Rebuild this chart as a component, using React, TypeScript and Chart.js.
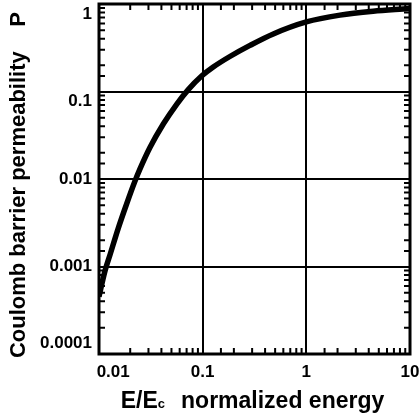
import React, { useEffect, useRef } from "react";
import { Chart, registerables } from "chart.js";

Chart.register(...registerables);

const energy = [0.01, 0.0114, 0.0128, 0.0153, 0.0185, 0.0222, 0.0248, 0.031, 0.0417, 0.0561, 0.0726, 0.0977, 0.1265, 0.183, 0.286, 0.48, 1.0, 2.11, 4.41, 9.8, 10];
const permeability = [0.000452, 0.000881, 0.00137, 0.00271, 0.00521, 0.0094, 0.01294, 0.02286, 0.04246, 0.07145, 0.1052, 0.1503, 0.1905, 0.2512, 0.3365, 0.455, 0.6237, 0.7464, 0.8279, 0.8892, 0.891];

const xTickValues = [0.01, 0.1, 1, 10];
const xTickLabels = ["      0.01", "0.1", "1", "10"];
const yTickValues = [0.0001, 0.001, 0.01, 0.1, 1];
const yTickLabels: (string | string[])[] = [["0.0001", ""], "0.001", "0.01", ["", "0.1"], ["", "1"]];

const FONT = "'Liberation Sans', Arial, Helvetica, sans-serif";

const isPow10 = (v: number) => Math.abs(Math.log10(v) - Math.round(Math.log10(v))) < 1e-6;
const findIdx = (arr: number[], v: number) => arr.findIndex((t) => Math.abs(t - v) < 1e-9 * t);

const framePlugin = {
  id: "frameAndMinor",
  afterDraw(chart: any) {
    const { ctx, chartArea } = chart;
    const { left, right, top, bottom } = chartArea;
    ctx.save();
    ctx.strokeStyle = "#000";
    ctx.lineWidth = 2;
    const len = 6;
    const xs = chart.scales.x;
    xs.ticks.forEach((t: any) => {
      if (isPow10(t.value)) return;
      const p = xs.getPixelForValue(t.value);
      if (p <= left + 1 || p >= right - 1) return;
      ctx.beginPath();
      ctx.moveTo(p, bottom);
      ctx.lineTo(p, bottom - len);
      ctx.moveTo(p, top);
      ctx.lineTo(p, top + len);
      ctx.stroke();
    });
    const ys = chart.scales.y;
    ys.ticks.forEach((t: any) => {
      if (isPow10(t.value)) return;
      const p = ys.getPixelForValue(t.value);
      if (p <= top + 1 || p >= bottom - 1) return;
      ctx.beginPath();
      ctx.moveTo(left, p);
      ctx.lineTo(left + len, p);
      ctx.moveTo(right, p);
      ctx.lineTo(right - len, p);
      ctx.stroke();
    });
    ctx.lineWidth = 3;
    ctx.strokeRect(left, top, right - left, bottom - top);

    // x axis title with subscript c
    const cx = (left + right) / 2 - 2;
    const base = bottom + 54;
    const big = `bold 23px ${FONT}`;
    const small = `bold 13px ${FONT}`;
    const p1 = "E/E";
    const p2 = "c";
    const p3 = "normalized energy";
    ctx.font = big;
    const w1 = ctx.measureText(p1).width;
    const w3 = ctx.measureText(p3).width;
    ctx.font = small;
    const w2 = ctx.measureText(p2).width;
    const gap = 16;
    const total = w1 + w2 + gap + w3;
    let x0 = cx - total / 2;
    ctx.fillStyle = "#000";
    ctx.textBaseline = "alphabetic";
    ctx.textAlign = "left";
    ctx.font = big;
    ctx.fillText(p1, x0, base);
    x0 += w1;
    ctx.font = small;
    ctx.fillText(p2, x0, base);
    x0 += w2 + gap;
    ctx.font = big;
    ctx.fillText(p3, x0, base);
    ctx.restore();
  },
};

export default function App() {
  const ref = useRef<HTMLCanvasElement | null>(null);
  useEffect(() => {
    if (!ref.current) return;
    const chart = new Chart(ref.current, {
      type: "line",
      data: {
        datasets: [
          {
            data: energy.map((e, i) => ({ x: e, y: permeability[i] })),
            borderColor: "#000",
            borderWidth: 5.5,
            pointRadius: 0,
            cubicInterpolationMode: "monotone",
            fill: false,
          },
        ],
      },
      options: {
        animation: false,
        responsive: false,
        devicePixelRatio: 1,
        layout: { padding: { top: 4, right: 10, left: 0, bottom: 0 } },
        plugins: { legend: { display: false }, tooltip: { enabled: false } },
        scales: {
          x: {
            type: "logarithmic",
            min: 0.01,
            max: 10,
            afterFit: (s: any) => {
              s.height = 66;
              s.paddingLeft = 0;
              s.paddingRight = 0;
            },
            grid: {
              color: (c: any) => (c.tick && findIdx(xTickValues, c.tick.value) >= 0 ? "#000" : "rgba(0,0,0,0)"),
              lineWidth: 2,
              drawTicks: false,
            },
            border: { display: false },
            ticks: {
              autoSkip: false,
              maxRotation: 0,
              padding: 8,
              color: "#000",
              font: { family: FONT, size: 17, weight: "bold" },
              callback: (v: any) => {
                const i = findIdx(xTickValues, Number(v));
                return i >= 0 ? xTickLabels[i] : "";
              },
            },
          },
          y: {
            type: "logarithmic",
            min: 0.0001,
            max: 1,
            afterFit: (s: any) => {
              s.width = 99;
              s.paddingTop = 0;
              s.paddingBottom = 0;
            },
            grid: {
              color: (c: any) => (c.tick && findIdx(yTickValues, c.tick.value) >= 0 ? "#000" : "rgba(0,0,0,0)"),
              lineWidth: 2,
              drawTicks: false,
            },
            border: { display: false },
            title: {
              display: true,
              text: "Coulomb barrier permeability    P  ",
              color: "#000",
              font: { family: FONT, size: 22, weight: "bold" },
              padding: { top: 6, bottom: 0 },
            },
            ticks: {
              autoSkip: false,
              padding: 7,
              color: "#000",
              font: { family: FONT, size: 17, weight: "bold", lineHeight: 1.2 },
              callback: (v: any) => {
                const i = findIdx(yTickValues, Number(v));
                return i >= 0 ? yTickLabels[i] : "";
              },
            },
          },
        },
      },
      plugins: [framePlugin],
    });
    return () => chart.destroy();
  }, []);
  return (
    <div style={{ position: "absolute", left: 0, top: 0, width: 420, height: 420, background: "#fff" }}>
      <canvas ref={ref} width={420} height={420} style={{ display: "block" }} />
    </div>
  );
}
